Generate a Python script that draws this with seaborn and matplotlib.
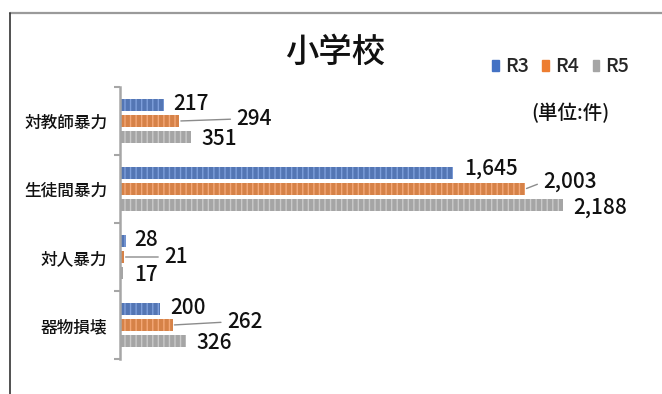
import matplotlib; matplotlib.use("Agg")
import matplotlib.pyplot as plt
import matplotlib.patches as mpatches
from matplotlib.lines import Line2D
import pandas as pd
import seaborn as sns

# ── Data ─────────────────────────────────────────────────────────────────
categories = ["対教師暴力", "生徒間暴力", "対人暴力", "器物損壊"]
years      = ["R3", "R4", "R5"]
r3_counts  = [217, 1645, 28, 200]
r4_counts  = [294, 2003, 21, 262]
r5_counts  = [351, 2188, 17, 326]

COLORS = {"R3": "#4472C4", "R4": "#ED7D31", "R5": "#A5A5A5"}
STRIPE = {"R3": "#7E9FDB", "R4": "#F4A877", "R5": "#CACACA"}

# label offsets in pixels (dx, dy) — R4 labels were dragged out with leader lines
LABEL_OFFSETS = {
    "R3": [(9, 1), (11, 4), (9, 1), (10, 1)],
    "R4": [(57, 2), (18, 7), (40, 0), (54, 3)],
    "R5": [(10, -2), (11, -3), (11, -2), (10, -2)],
}

df = pd.DataFrame({
    "category": categories * 3,
    "year": [y for y in years for _ in categories],
    "count": r3_counts + r4_counts + r5_counts,
})

sns.set_theme(style="white")
plt.rcParams["font.family"] = ["Noto Sans CJK JP", "DejaVu Sans"]
plt.rcParams["font.weight"] = "medium"
plt.rcParams["hatch.linewidth"] = 1.0

W, H = 662, 394
fig = plt.figure(figsize=(W / 100, H / 100), dpi=100)
ax = fig.add_axes([120 / W, 1 - 359 / H, (646 - 120) / W, 272 / H])

sns.barplot(data=df, y="category", x="count", hue="year", order=categories,
            hue_order=years, palette=COLORS, width=0.705, gap=0.25,
            legend=False, ax=ax)

for yr, cont in zip(years, ax.containers):
    for j, bar in enumerate(cont):
        bar.set_hatch("|||")
        bar.set_edgecolor(STRIPE[yr])
        bar.set_linewidth(0)
        val = bar.get_width()
        yc = bar.get_y() + bar.get_height() / 2
        dx, dy = LABEL_OFFSETS[yr][j]
        kw = {}
        if yr == "R4":
            kw["arrowprops"] = dict(arrowstyle="-", color="#8C8C8C", lw=1.0,
                                    shrinkA=2, shrinkB=1, relpos=(0, 0.5))
        ax.annotate(f"{int(val):,}", xy=(val, yc), xytext=(dx, dy),
                    textcoords="offset pixels", ha="left", va="center",
                    fontsize=15, color="#111111", **kw)

ax.set_xlim(0, 2600)
ax.set_xlabel("")
ax.set_ylabel("")
ax.set_xticks([])
for s in ["top", "right", "bottom"]:
    ax.spines[s].set_visible(False)
ax.spines["left"].set_color("#A6A6A6")
ax.spines["left"].set_linewidth(1.8)
ax.tick_params(axis="y", which="major", length=0, pad=9, labelsize=12,
               labelcolor="#111111")
ax.set_yticks([-0.5, 0.5, 1.5, 2.5, 3.5], minor=True)
ax.tick_params(axis="y", which="minor", left=True, length=4, width=1.5,
               color="#A6A6A6")

fig.text(0.506, 0.868, "小学校", fontsize=24, ha="center", va="center",
         color="#111111")
fig.text(0.862, 0.713, "(単位:件)", fontsize=14, ha="center", va="center",
         color="#111111")

handles = [mpatches.Patch(color=COLORS[y], label=y) for y in years]
fig.legend(handles=handles, loc="center", bbox_to_anchor=(0.847, 0.83),
           ncol=3, frameon=False, fontsize=14, handlelength=0.35,
           handleheight=0.55, handletextpad=0.3, columnspacing=0.7)

# outer frame (top and left edges visible)
fig.add_artist(Line2D([10 / W, 1], [1 - 13 / H] * 2, transform=fig.transFigure,
                      color="#9A9A9A", lw=1.6))
fig.add_artist(Line2D([10 / W] * 2, [0, 1 - 13 / H], transform=fig.transFigure,
                      color="#333333", lw=1.2))

fig.savefig("out.png", dpi=100)
